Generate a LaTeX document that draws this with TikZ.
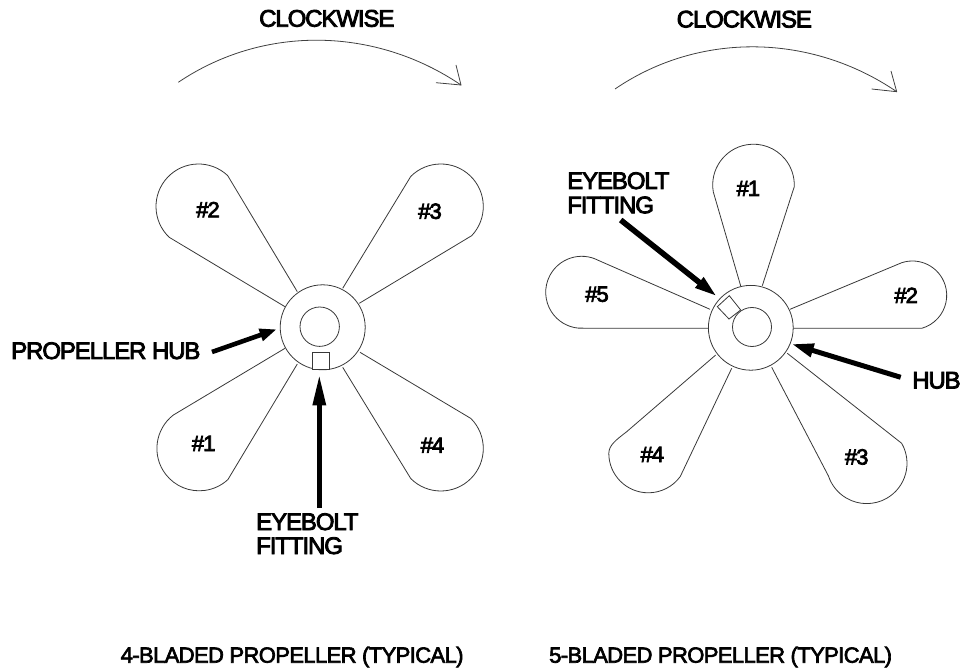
\documentclass[tikz,border=0pt]{standalone}
\usepackage{fontspec}
\setmainfont{Liberation Sans}
\newfontfamily\heavyfont[FakeBold=3.5,LetterSpace=-4.6]{Liberation Sans}
\newfontfamily\capfont[FakeBold=3,LetterSpace=-2.8]{Liberation Sans}
\usetikzlibrary{arrows.meta,calc}
\tikzset{
  x=1pt,y=1pt,
  outline/.style={line width=0.8pt,draw=black!78},
  hub/.style={circle,outline,inner sep=0pt,fill=none},
  fitting/.style={outline,fill=white},
  turn/.style={line width=0.8pt,draw=black!75},
  pointer/.style={line width=#1,draw=black},
  biglabel/.style={inner sep=0pt,anchor=base west,font=\heavyfont\fontsize{24}{25}\selectfont},
  numlabel/.style={inner sep=0pt,anchor=base,font=\heavyfont\fontsize{22}{23}\selectfont},
  caption/.style={inner sep=0pt,anchor=base west,font=\capfont\fontsize{22}{23}\selectfont}
}
% hub point 1, centre, radius, start angle, end angle, hub point 2
\newcommand{\lobe}[6]{\draw[outline] (#1) -- ($(#2)+(#4:#3)$) arc[start angle=#4,end angle=#5,radius=#3] -- (#6);}
\begin{document}
\begin{tikzpicture}
\useasboundingbox (0,0) rectangle (962,-671);
% --- left propeller ---
\node[hub,minimum size=85pt] (hubA) at (322.7,-327.3) {};
\node[hub,minimum size=39.4pt] (boreA) at (319.7,-326.7) {};
\lobe{285,-306.7}{198.5,-206.5}{42.5}{226.5}{46.6}{297.3,-291.7}
\lobe{359.3,-303.3}{440.8,-206.5}{42.5}{-43.4}{135}{342.7,-288.3}
\lobe{285,-348.3}{199.2,-448.5}{42.3}{127.7}{312.7}{297.3,-364}
\lobe{360,-352.3}{440.8,-448.5}{42.5}{45}{-135}{342.7,-367.3}
\node[fitting,minimum size=16.6pt,inner sep=0pt] (boltA) at (321,-360.8) {};
\node[numlabel] (a1) at (203.7,-451) {\#1};
\node[numlabel] (a2) at (208,-217.3) {\#2};
\node[numlabel] (a3) at (430,-218.8) {\#3};
\node[numlabel] (a4) at (432.5,-452.8) {\#4};
\node[biglabel] (hubtextA) at (11,-359) {PROPELLER HUB};
\node[biglabel] (eyeA1) at (256,-530) {EYEBOLT};
\node[biglabel] (eyeA2) at (256,-554) {FITTING};
\coordinate (hubtailA) at (212,-352);
\coordinate (hubtipA) at (276.7,-329.3);
\coordinate (eyetailA) at (319.3,-508);
\coordinate (eyetipA) at (319.3,-373.3);
\draw[pointer=4.6pt,-{Triangle[length=17pt,width=12pt]}] (hubtailA) -- (hubtipA);
\draw[pointer=5.6pt,-{Triangle[length=32pt,width=12pt]}] (eyetailA) -- (eyetipA);
% --- right propeller ---
\node[hub,minimum size=84.8pt] (hubB) at (750.8,-327.8) {};
\node[hub,minimum size=39pt] (boreB) at (752,-327) {};
\lobe{740.7,-286}{753.5,-185}{40.8}{189.7}{-2.4}{762.3,-285.7}
\lobe{790,-309.3}{912.4,-295.3}{34.3}{108}{-74.3}{793.3,-328.3}
\lobe{787.3,-353.3}{866.7,-463.3}{40.3}{29.7}{-161.6}{771.7,-367.3}
\draw[outline] (715.7,-355) -- (626.7,-431.7) .. controls (616,-440) and (609,-445) .. (608.8,-453.3) arc[start angle=180,end angle=324,radius=39.5] -- (731.7,-368.3);
\lobe{710,-309.3}{581.7,-292.3}{36}{62.7}{264.7}{708.3,-328.3}
\draw[fitting] (729.3,-295.7) -- (740.7,-310) -- (729,-319) -- (717.3,-306.7) -- cycle;
\node[numlabel] (b1) at (748.3,-196) {\#1};
\node[numlabel] (b2) at (906.2,-303) {\#2};
\node[numlabel] (b3) at (856.7,-464.5) {\#3};
\node[numlabel] (b4) at (652.3,-462) {\#4};
\node[numlabel] (b5) at (597,-301.7) {\#5};
\node[biglabel] (eyeB1) at (567,-189) {EYEBOLT};
\node[biglabel] (eyeB2) at (567,-213.3) {FITTING};
\node[biglabel] (hubtextB) at (912,-388.5) {HUB};
\coordinate (hubtailB) at (900.7,-377.3);
\coordinate (hubtipB) at (791.7,-344);
\coordinate (eyetailB) at (620.7,-220);
\coordinate (eyetipB) at (717.3,-296.7);
\draw[pointer=5pt,-{Triangle[length=22pt,width=13pt]}] (hubtailB) -- (hubtipB);
\draw[pointer=5.6pt,-{Triangle[length=23pt,width=12pt]}] (eyetailB) -- (eyetipB);
% --- rotation arrows ---
\node[biglabel] (cwA) at (259,-26.7) {CLOCKWISE};
\node[biglabel] (cwB) at (676.5,-27.5) {CLOCKWISE};
\coordinate (arcAs) at (178.3,-82.3);
\coordinate (arcAe) at (461,-85);
\draw[turn] (arcAs) .. controls (264,-24.5) and (375.5,-27) .. (arcAe);
\coordinate (barbA1) at (456,-65);
\coordinate (barbA2) at (436,-82.7);
\draw[turn] (barbA1) -- (arcAe) -- (barbA2);
\coordinate (arcBs) at (615,-89);
\coordinate (arcBe) at (896.7,-91.7);
\draw[turn] (arcBs) .. controls (700,-31) and (811.7,-33.7) .. (arcBe);
\coordinate (barbB1) at (891,-71);
\coordinate (barbB2) at (871.7,-89);
\draw[turn] (barbB1) -- (arcBe) -- (barbB2);
% --- captions ---
\node[caption] (capA) at (120.5,-662.7) {4-BLADED PROPELLER (TYPICAL)};
\node[caption] (capB) at (549,-662.7) {5-BLADED PROPELLER (TYPICAL)};
\end{tikzpicture}
\end{document}
